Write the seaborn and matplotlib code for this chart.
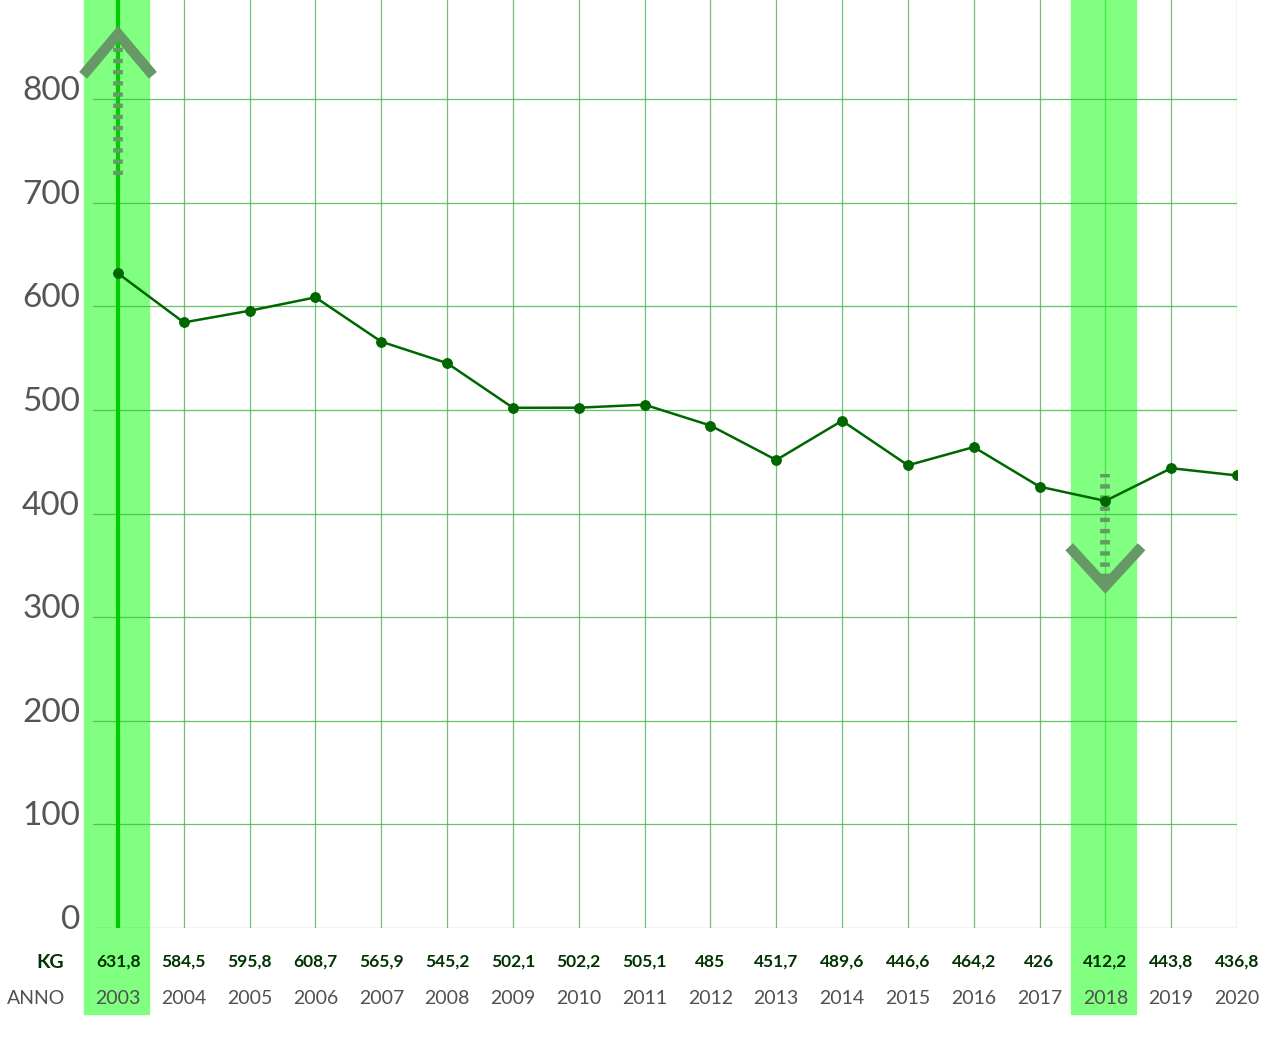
import matplotlib
matplotlib.use('Agg')
import matplotlib.pyplot as plt
import seaborn as sns
import pandas as pd

# data
anni = list(range(2003, 2021))
kg = [631.8, 584.5, 595.8, 608.7, 565.9, 545.2, 502.1, 502.2, 505.1, 485,
      451.7, 489.6, 446.6, 464.2, 426, 412.2, 443.8, 436.8]
kg_labels = ['631,8', '584,5', '595,8', '608,7', '565,9', '545,2', '502,1', '502,2',
             '505,1', '485', '451,7', '489,6', '446,6', '464,2', '426', '412,2',
             '443,8', '436,8']
y_ticks = [0, 100, 200, 300, 400, 500, 600, 700, 800]
evidenziati = [2003, 2018]

df = pd.DataFrame({'anno': anni, 'kg': kg})

sns.set_style('white')
plt.rcParams['font.family'] = ['Lato', 'DejaVu Sans']

fig = plt.figure(figsize=(12.81, 10.38), dpi=100)
ax = fig.add_axes([93 / 1281, 110 / 1038, 1144 / 1281, 928 / 1038])
ax.set_xlim(2002.62, 2020)
ax.set_ylim(0, 895.7)
for s in ax.spines.values():
    s.set_visible(False)

# highlight bands (extend below axes over the labels)
for a in evidenziati:
    ax.axvspan(a - 0.52, a + 0.47, ymin=-0.093, ymax=1, color='#80ff80',
               zorder=0, clip_on=False)

# grid
for v in y_ticks:
    ax.axhline(v, color='#4cb84c', lw=0.9, alpha=0.85, zorder=1)
for a in anni:
    c = '#33dd33' if a == 2018 else '#55b055'
    ax.axvline(a, color=c, lw=0.9, alpha=0.8, zorder=1)
ax.axvline(2003, color='#00cc00', lw=3, zorder=2)

# line
sns.lineplot(data=df, x='anno', y='kg', ax=ax, color='#006600', lw=1.8,
             marker='o', markersize=7, markeredgecolor='#006600', zorder=4)

# arrows
freccia = '#669966'
tratteggio = (0, (0.45, 0.7))
ax.plot([2003, 2003], [727, 852], color=freccia, lw=7, ls=tratteggio,
        zorder=3, dash_capstyle='butt', clip_on=False)
ax.plot([2002.47, 2003, 2003.53], [823, 863, 823], color=freccia, lw=7.5, zorder=3,
        solid_joinstyle='miter', solid_capstyle='butt', clip_on=False)
ax.plot([2018, 2018], [338, 438], color=freccia, lw=7, ls=tratteggio,
        zorder=3, dash_capstyle='butt')
ax.plot([2017.45, 2018, 2018.55], [368, 330, 368], color=freccia, lw=7.5, zorder=3,
        solid_joinstyle='miter', solid_capstyle='butt')

# y tick labels
ax.set_xticks([])
ax.set_yticks([])
for v in y_ticks:
    ax.text(-13 / 1144, v - 1, str(v), transform=ax.get_yaxis_transform(),
            ha='right', va='baseline', fontsize=24, fontweight='normal', color='#555555')

# labels under the chart
lab_tr = ax.get_xaxis_transform()
for a, t in zip(anni, kg_labels):
    ax.text(a, -34 / 928, t, transform=lab_tr, ha='center', va='center',
            fontsize=12.5, fontweight='bold', color='#003300')
    ax.text(a, -70 / 928, str(a), transform=lab_tr, ha='center', va='center',
            fontsize=14, fontweight='normal', color='#505050')
fig.text(50 / 1281, 1 - 962 / 1038, 'KG', ha='center', va='center',
         fontsize=14, fontweight='bold', color='#003300')
fig.text(36 / 1281, 1 - 998 / 1038, 'ANNO', ha='center', va='center',
         fontsize=14, fontweight='normal', color='#505050')

ax.set_xlabel('')
ax.set_ylabel('')
fig.savefig('out.png', dpi=100)
